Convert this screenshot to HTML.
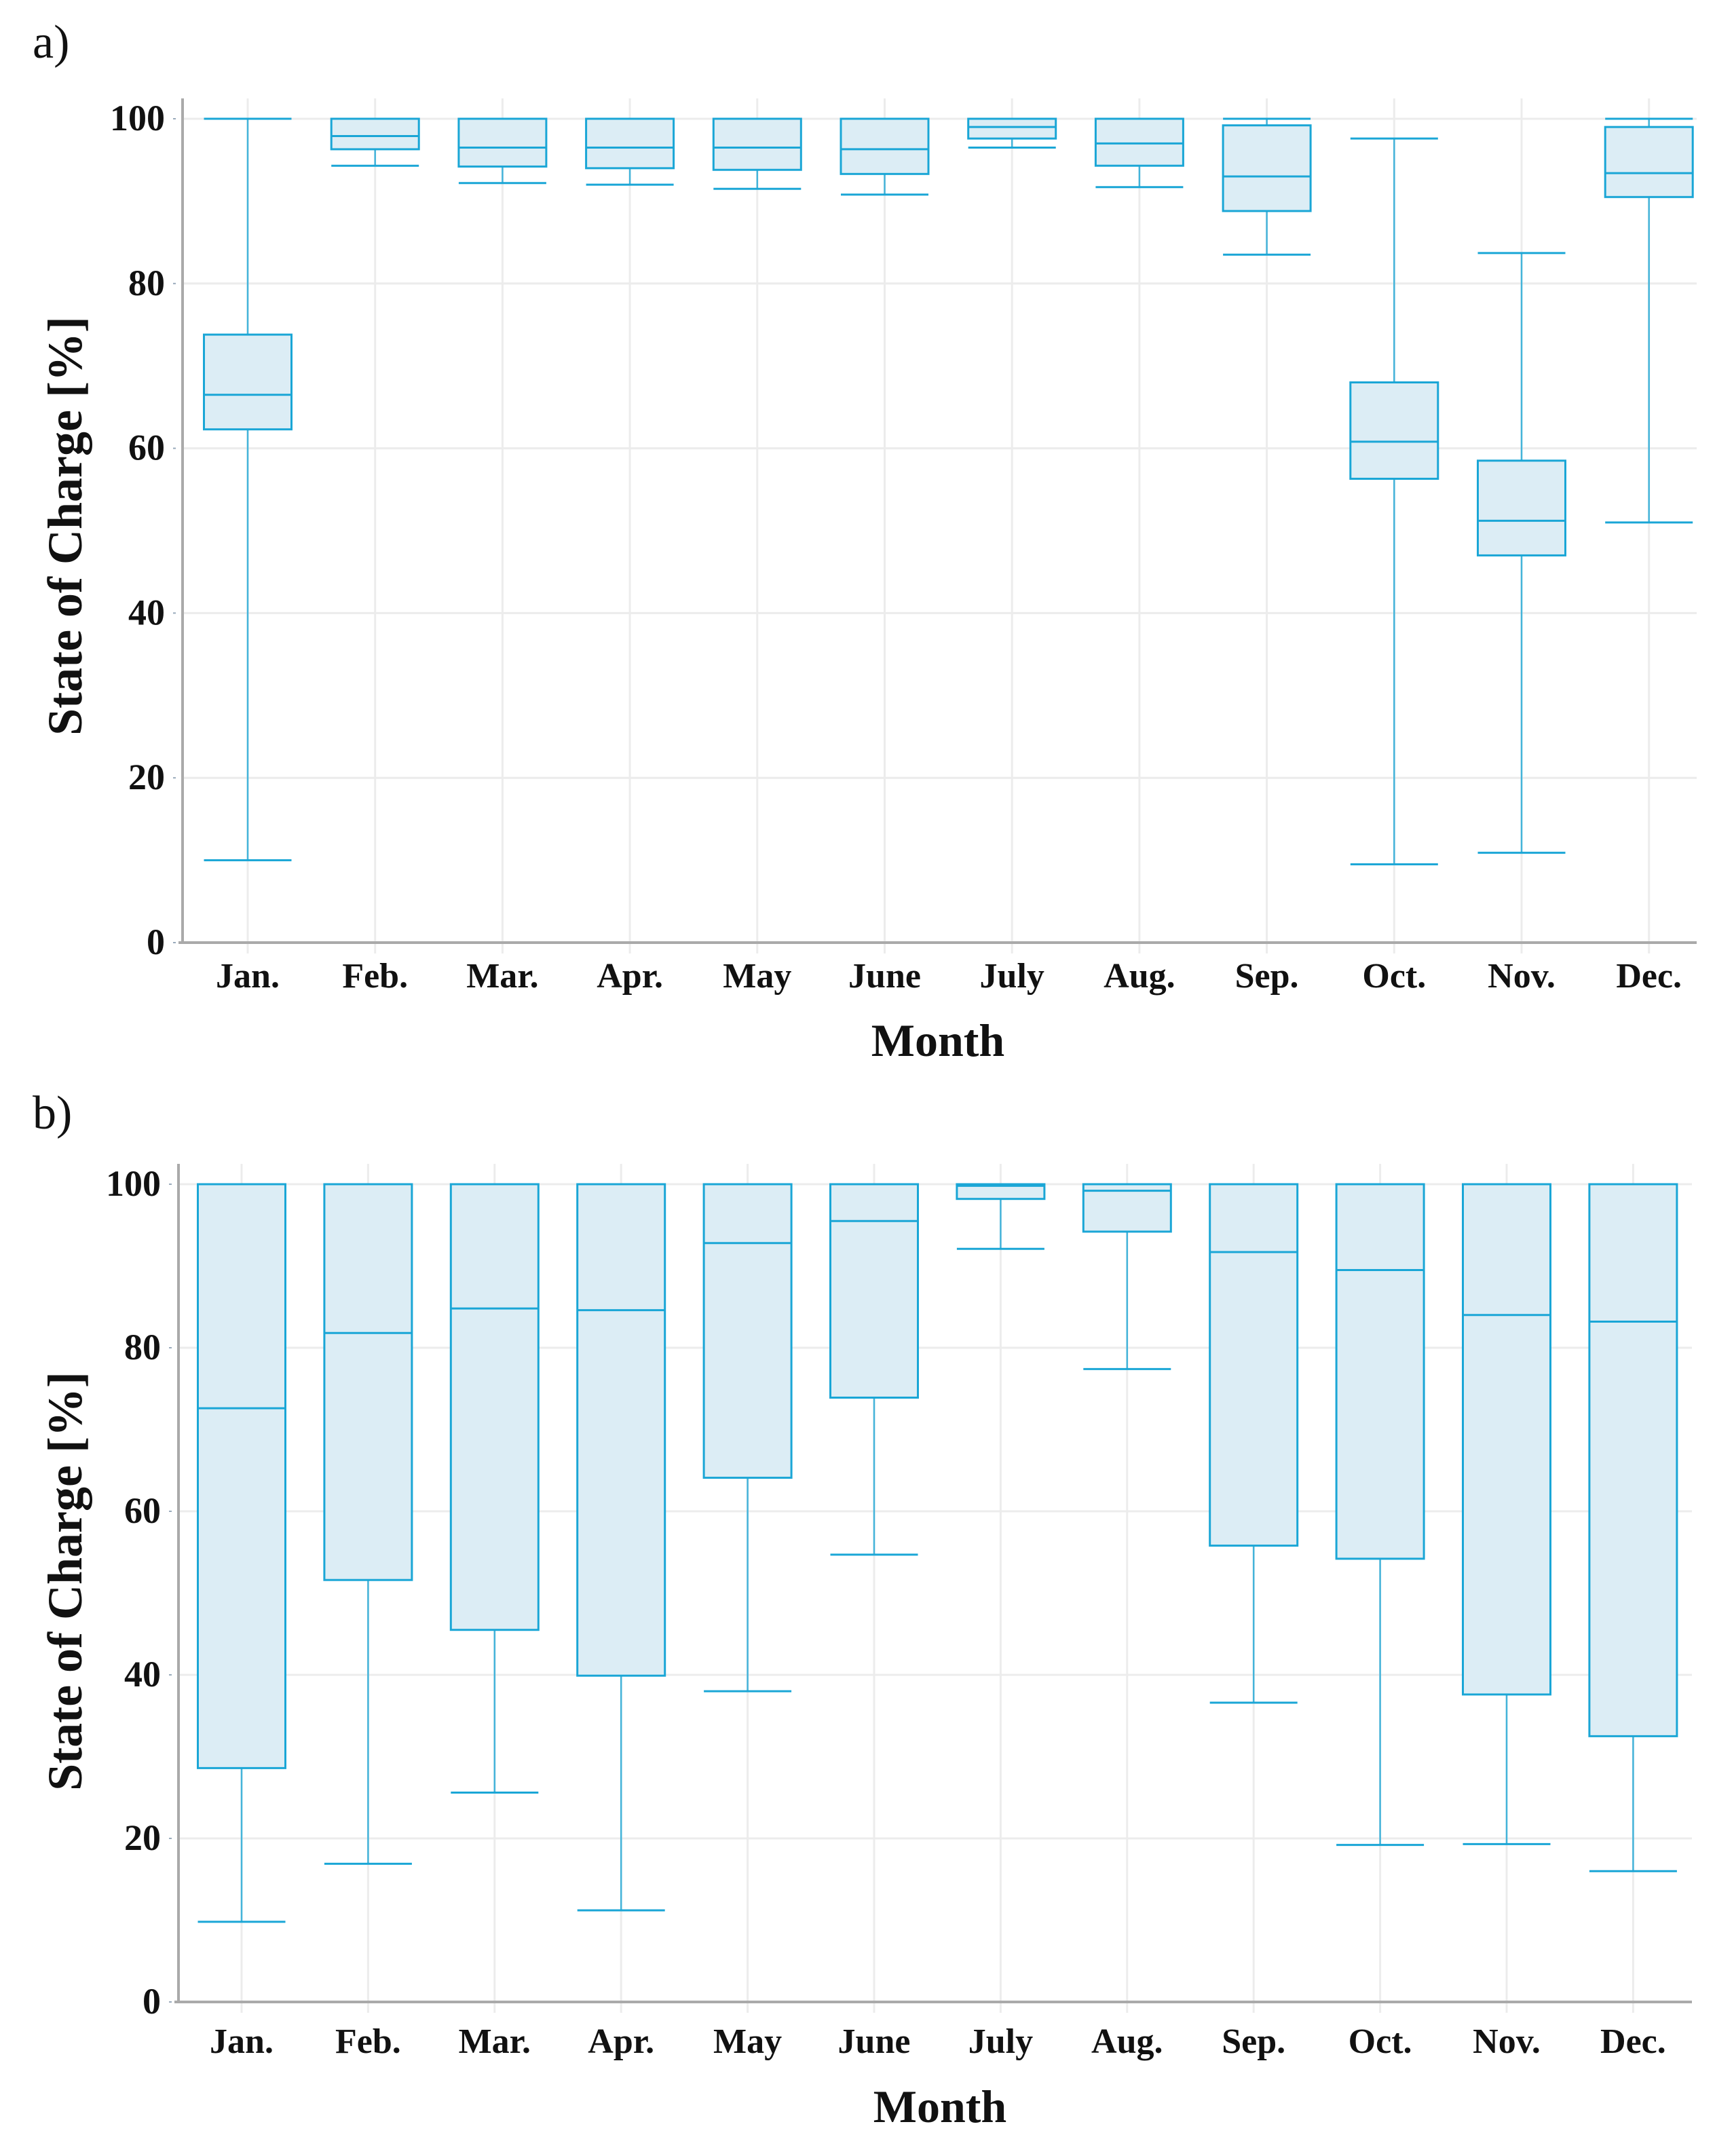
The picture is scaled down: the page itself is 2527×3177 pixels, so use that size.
<!DOCTYPE html>
<html><head><meta charset="utf-8">
<style>
html,body{margin:0;padding:0;background:#fff;}
svg{display:block;}
text{font-family:"Liberation Serif",serif;fill:#111;}
</style></head>
<body>
<svg id="chart" width="2527" height="3177" viewBox="0 0 2527 3177" xmlns="http://www.w3.org/2000/svg"></svg>
<script>
const months = ["Jan.","Feb.","Mar.","Apr.","May","June","July","Aug.","Sep.","Oct.","Nov.","Dec."];
const yTicks = [0,20,40,60,80,100];
// panel a
const aMin = [10,94.3,92.2,92,91.5,90.8,96.5,91.7,83.5,9.5,10.9,51];
const aQ1  = [62.3,96.3,94.2,94,93.8,93.3,97.6,94.3,88.8,56.3,47,90.5];
const aMed = [66.5,97.9,96.5,96.5,96.5,96.3,99,97,93,60.8,51.2,93.4];
const aQ3  = [73.8,100,100,100,100,100,100,100,99.2,68,58.5,99];
const aMax = [100,100,100,100,100,100,100,100,100,97.6,83.7,100];
// panel b
const bMin = [9.8,16.9,25.6,11.2,38,54.7,92.1,77.4,36.6,19.2,19.3,16];
const bQ1  = [28.6,51.6,45.5,39.9,64.1,73.9,98.2,94.2,55.8,54.2,37.6,32.5];
const bMed = [72.6,81.8,84.8,84.6,92.8,95.5,99.8,99.2,91.7,89.5,84,83.2];
const bQ3  = [100,100,100,100,100,100,100,100,100,100,100,100];
const bMax = [100,100,100,100,100,100,100,100,100,100,100,100];

const NS="http://www.w3.org/2000/svg";
const svg=document.getElementById('chart');
function el(tag,attrs,parent){const e=document.createElementNS(NS,tag);for(const k in attrs)e.setAttribute(k,attrs[k]);(parent||svg).appendChild(e);return e;}

function panel(p){
  const g=el('g',{});
  
  
  const y=v=>p.y0+(p.y100-p.y0)*v/100;
  const x=i=>p.x0+i*p.dx;
  const top=p.y100-30, right=p.right;
  yTicks.forEach(t=>{
    if(t>0){const l=el('line',{x1:p.axisX,x2:right,y1:y(t),y2:y(t),stroke:'#ececec','stroke-width':3},g);
    
    }
    el('line',{x1:p.axisX-14,x2:p.axisX-10,y1:y(t),y2:y(t),stroke:'#9ab','stroke-width':2},g);
    const tx=el('text',{x:p.axisX-26,y:y(t)+17,'text-anchor':'end','font-size':54,'font-weight':'bold'},g);
    tx.textContent=t;
    
    
  });
  months.forEach((m,i)=>{
    const l=el('line',{x1:x(i),x2:x(i),y1:top,y2:p.y0+16,stroke:'#ececec','stroke-width':3},g);
    
    
    const tx=el('text',{x:x(i),y:p.labelY,'text-anchor':'middle','font-size':52,'font-weight':'bold'},g);
    tx.textContent=m;
    
    
  });
  const ax=el('line',{x1:p.axisX,x2:p.axisX,y1:top,y2:p.y0,stroke:'#aaa','stroke-width':4},g);
  
  
  const axx=el('line',{x1:p.axisX-6,x2:right,y1:p.y0,y2:p.y0,stroke:'#aaa','stroke-width':4},g);
  
  
  const bw=129, col='#1aa6d6';
  months.forEach((m,i)=>{
    const bg=el('g',{},g);
    
    
    const cx=x(i);
    el('line',{x1:cx,x2:cx,y1:y(p.max[i]),y2:y(p.q3[i]),stroke:col,'stroke-width':2.5,'stroke-opacity':0.8},bg);
    el('line',{x1:cx,x2:cx,y1:y(p.q1[i]),y2:y(p.min[i]),stroke:col,'stroke-width':2.5,'stroke-opacity':0.8},bg);
    el('line',{x1:cx-bw/2,x2:cx+bw/2,y1:y(p.max[i]),y2:y(p.max[i]),stroke:col,'stroke-width':3},bg);
    el('line',{x1:cx-bw/2,x2:cx+bw/2,y1:y(p.min[i]),y2:y(p.min[i]),stroke:col,'stroke-width':3},bg);
    el('rect',{x:cx-bw/2,y:y(p.q3[i]),width:bw,height:Math.max(1,y(p.q1[i])-y(p.q3[i])),fill:'#dcedf5',stroke:col,'stroke-width':3},bg);
    el('line',{x1:cx-bw/2,x2:cx+bw/2,y1:y(p.med[i]),y2:y(p.med[i]),stroke:col,'stroke-width':3},bg);
  });
  const xt=el('text',{x:p.titleX,y:p.titleY,'text-anchor':'middle','font-size':68,'font-weight':'bold'},g);
  xt.textContent='Month';
  
  
  const yt=el('text',{x:0,y:0,'text-anchor':'middle','font-size':72,'font-weight':'bold',transform:`translate(${p.ytX},${p.ytY}) rotate(-90)`},g);
  yt.textContent='State of Charge  [%]';
  
  
  const lb=el('text',{x:48,y:p.letterY,'font-size':70},g);
  lb.textContent=p.letter;
  
  
}
panel({name:'panel-a',letter:'a)',letterY:85,x0:365,dx:187.7,axisX:269,right:2500,y100:175,y0:1389,
  labelY:1455,titleX:1382,titleY:1556,ytX:120,ytY:775,min:aMin,q1:aQ1,med:aMed,q3:aQ3,max:aMax});
panel({name:'panel-b',letter:'b)',letterY:1663,x0:356,dx:186.4,axisX:263,right:2493,y100:1745,y0:2950,
  labelY:3025,titleX:1385,titleY:3127,ytX:120,ytY:2330,min:bMin,q1:bQ1,med:bMed,q3:bQ3,max:bMax});
</script>
</body></html>
